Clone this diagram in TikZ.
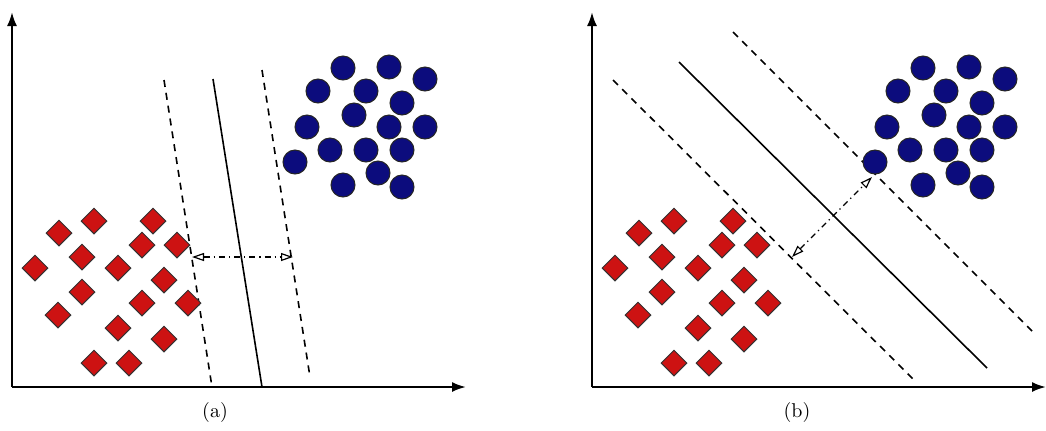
\documentclass[tikz,border=0pt]{standalone}
\usetikzlibrary{arrows.meta,shapes.geometric}
\definecolor{svmblue}{RGB}{12,12,125}
\definecolor{svmred}{RGB}{205,18,18}

\begin{document}
\begin{tikzpicture}[x=0.5pt, y=-0.5pt,
  axis/.style={line width=1.1pt, -{Latex[length=7pt,width=5pt]}},
  posdot/.style={circle, fill=svmblue, draw=black!85, line width=0.5pt,
    minimum size=12pt, inner sep=0pt},
  negdot/.style={diamond, fill=svmred, draw=black!80, line width=0.5pt,
    minimum size=13pt, inner sep=0pt},
  hyper/.style={line width=0.8pt},
  margin/.style={line width=0.8pt, dash pattern=on 3.5pt off 3pt},
  gap/.style={line width=0.6pt, dash dot,
    {Triangle[open,length=6pt,width=4pt]}-{Triangle[open,length=6pt,width=4pt]}}]
\useasboundingbox (0,0) rectangle (1046,430);

% separating lines of panel (a)
\coordinate (a-h1) at (213,79);  \coordinate (a-h2) at (262,387);
\coordinate (a-l1) at (164,80);  \coordinate (a-l2) at (212,387);
\coordinate (a-r1) at (262,70);  \coordinate (a-r2) at (310,377);
\coordinate (a-m1) at (192,257); \coordinate (a-m2) at (293,257);
% separating lines of panel (b)
\coordinate (b-h1) at (679,62);  \coordinate (b-h2) at (987,368);
\coordinate (b-l1) at (613,80);  \coordinate (b-l2) at (914,380);
\coordinate (b-r1) at (733,32);  \coordinate (b-r2) at (1034,333);
\coordinate (b-m1) at (792,257); \coordinate (b-m2) at (872,177);

\foreach \dx/\p in {0/a, 580/b} {
  \coordinate (\p-o) at (12+\dx,387);
  \coordinate (\p-y) at (12+\dx,12);
  \coordinate (\p-x) at (466+\dx,387);
  \draw[axis] (\p-o) -- (\p-y);
  \draw[axis] (\p-o) -- (\p-x);
  \draw[hyper] (\p-h1) -- (\p-h2);
  \draw[margin] (\p-l1) -- (\p-l2);
  \draw[margin] (\p-r1) -- (\p-r2);
  \draw[gap] (\p-m1) -- (\p-m2);
  % class +1
  \foreach \x/\y [count=\i] in {343/68, 389/67, 425/79, 318/91, 366/91,
      402/103, 354/115, 307/127, 389/127, 425/127, 330/150, 366/150,
      402/150, 295/162, 378/173, 343/185, 402/187}
    \node[posdot] (\p-c\i) at (\x+\dx,\y) {};
  % class -1
  \foreach \x/\y [count=\i] in {94/221, 153/221, 59/233, 142/245, 177/245,
      82/257, 35/268, 118/268, 164/280, 82/292, 142/303, 188/303,
      58/315, 118/328, 164/339, 94/363, 129/363}
    \node[negdot] (\p-d\i) at (\x+\dx,\y) {};
}
\node (a-lab) at (215,412) {(a)};
\node (b-lab) at (797,412) {(b)};
\end{tikzpicture}
\end{document}
